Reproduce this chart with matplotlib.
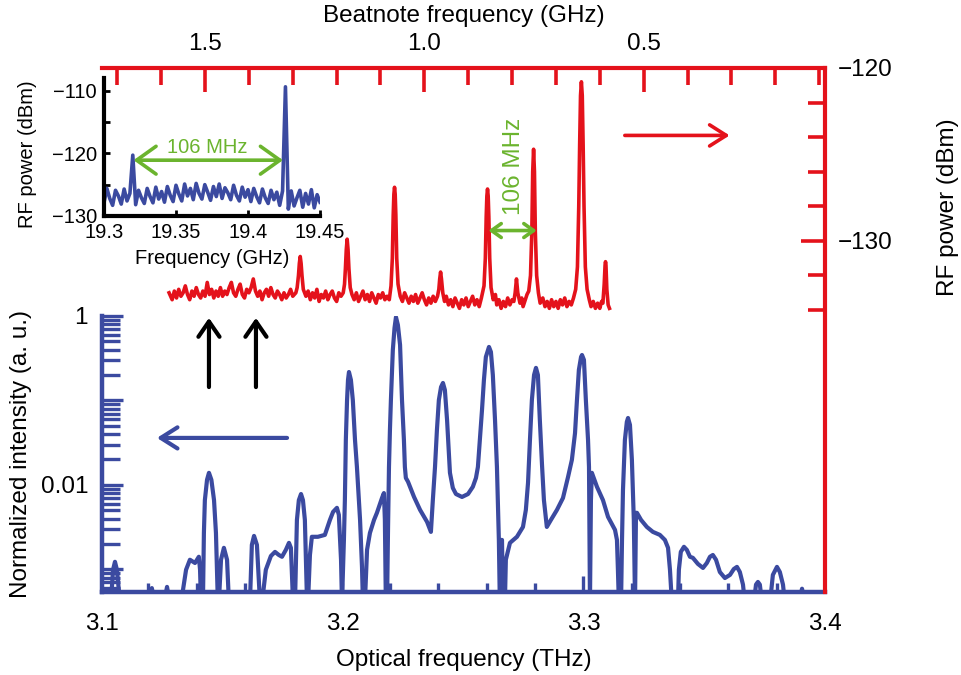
import matplotlib.pyplot as plt
import numpy as np
from matplotlib.ticker import FixedLocator, FixedFormatter, LogLocator, NullFormatter

plt.rcParams["font.family"] = ["Liberation Sans", "DejaVu Sans"]
plt.rcParams["font.size"] = 17.5

BLUE = "#3b4aa0"
RED = "#e4121b"
GREEN = "#6bb42e"

# --- optical spectrum (THz, normalized intensity); F = below the plot floor
F = 4e-4
optical_points = [
    (3.1004, F), (3.1037, F), (3.1046, 9.9e-4), (3.1054, 1.23e-3), (3.1062, 9.9e-4), (3.1075, F),
    (3.1199, F), (3.1207, 6.0e-4), (3.1220, F), (3.1257, F), (3.1270, 6.2e-4), (3.1282, F),
    (3.1328, F), (3.1349, 9.9e-4), (3.1365, 1.30e-3), (3.1386, 1.19e-3), (3.1402, 1.41e-3),
    (3.1407, 9.9e-4), (3.1411, F),
    (3.1419, F), (3.1423, 2.70e-3), (3.1427, 6.6e-3), (3.1436, 1.15e-2), (3.1444, 1.39e-2),
    (3.1454, 1.15e-2), (3.1465, 6.6e-3), (3.1473, 2.70e-3), (3.1481, F),
    (3.1485, F), (3.1494, 1.30e-3), (3.1506, 1.80e-3), (3.1519, 1.30e-3), (3.1527, F),
    (3.1614, F), (3.1622, 1.95e-3), (3.1631, 2.49e-3), (3.1643, 1.95e-3), (3.1656, F),
    (3.1664, F), (3.1680, 9.9e-4), (3.1701, 1.44e-3), (3.1718, 1.61e-3), (3.1734, 1.48e-3),
    (3.1747, 1.41e-3), (3.1763, 1.70e-3), (3.1776, 2.06e-3), (3.1784, 1.80e-3), (3.1793, F),
    (3.1801, F), (3.1809, 3.85e-3), (3.1817, 6.6e-3), (3.1826, 7.8e-3), (3.1834, 6.6e-3),
    (3.1842, 3.85e-3), (3.1851, F),
    (3.1855, F), (3.1863, 1.48e-3), (3.1871, 2.43e-3), (3.1896, 2.43e-3), (3.1925, 2.56e-3),
    (3.1946, 3.85e-3), (3.1959, 4.79e-3), (3.1975, 5.35e-3), (3.1983, 4.42e-3), (3.1992, 1.30e-3),
    (3.1996, F),
    (3.2004, 2.23e-3), (3.2008, 6.6e-3), (3.2012, 3.41e-2), (3.2017, 0.101), (3.2021, 0.175),
    (3.2025, 0.217), (3.2033, 0.175), (3.2041, 0.101), (3.2050, 3.41e-2), (3.2058, 1.63e-2),
    (3.2071, 3.85e-3), (3.2079, 1.07e-3), (3.2083, F),
    (3.2091, F), (3.2100, 1.70e-3), (3.2112, 2.70e-3), (3.2129, 3.85e-3), (3.2141, 4.67e-3),
    (3.2162, 7.0e-3), (3.2170, 8.0e-3), (3.2174, 3.85e-3), (3.2178, F),
    (3.2183, F), (3.2187, 2.93e-3), (3.2191, 1.63e-2), (3.2195, 4.48e-2), (3.2199, 0.101),
    (3.2207, 0.396), (3.2214, 0.721), (3.2220, 0.97), (3.2228, 0.782), (3.2237, 0.454),
    (3.2245, 0.101), (3.2253, 3.41e-2), (3.2257, 1.63e-2), (3.2261, 1.21e-2), (3.2270, 1.09e-2),
    (3.2295, 7.2e-3), (3.2320, 5.06e-3), (3.2349, 3.65e-3), (3.2365, 2.78e-3),
    (3.2373, 6.6e-3), (3.2382, 1.63e-2), (3.2390, 4.48e-2), (3.2398, 0.101), (3.2407, 0.144),
    (3.2415, 0.161), (3.2423, 0.133), (3.2432, 5.88e-2), (3.2440, 2.27e-2), (3.2444, 1.39e-2),
    (3.2456, 9.2e-3), (3.2469, 7.8e-3), (3.2494, 7.2e-3), (3.2519, 7.8e-3), (3.2539, 9.5e-3),
    (3.2552, 1.21e-2), (3.2560, 1.63e-2),
    (3.2568, 3.41e-2), (3.2577, 7.7e-2), (3.2585, 0.175), (3.2593, 0.327), (3.2606, 0.43),
    (3.2614, 0.375), (3.2622, 0.200), (3.2631, 5.88e-2), (3.2639, 1.63e-2), (3.2647, 2.23e-3),
    (3.2651, F), (3.2656, 2.23e-3), (3.2660, 2.23e-3), (3.2664, F),
    (3.2672, F), (3.2676, 1.30e-3), (3.2693, 2.06e-3), (3.2722, 2.43e-3), (3.2747, 3.18e-3),
    (3.2759, 5.06e-3), (3.2768, 1.06e-2),
    (3.2776, 3.41e-2), (3.2784, 0.101), (3.2793, 0.200), (3.2801, 0.243), (3.2809, 0.200),
    (3.2817, 5.88e-2), (3.2826, 1.73e-2), (3.2834, 6.6e-3), (3.2846, 3.18e-3),
    (3.2863, 3.85e-3), (3.2888, 5.06e-3), (3.2913, 7.0e-3), (3.2934, 1.24e-2), (3.2950, 1.98e-2),
    (3.2963, 4.1e-2), (3.2971, 0.101), (3.2979, 0.230), (3.2988, 0.327), (3.2992, 0.345),
    (3.3000, 0.302), (3.3008, 0.101), (3.3017, 3.41e-2), (3.3021, 1.63e-2), (3.3025, F),
    (3.3029, 6.6e-3), (3.3033, 1.39e-2), (3.3054, 9.5e-3), (3.3079, 6.6e-3), (3.3100, 4.18e-3),
    (3.3120, 3.27e-3), (3.3129, 2.93e-3), (3.3137, 2.23e-3), (3.3141, 9.9e-4), (3.3145, F),
    (3.3154, F), (3.3158, 2.23e-3), (3.3162, 8.7e-3), (3.3170, 3.41e-2), (3.3178, 5.57e-2),
    (3.3183, 6.2e-2), (3.3191, 5.13e-2), (3.3199, 1.98e-2), (3.3207, 3.85e-3), (3.3212, F),
    (3.3216, 4.67e-3), (3.3220, 4.67e-3), (3.3237, 3.85e-3), (3.3261, 3.18e-3), (3.3286, 2.78e-3),
    (3.3315, 2.56e-3), (3.3336, 2.23e-3), (3.3349, 1.80e-3), (3.3357, 9.9e-4), (3.3365, F),
    (3.3390, F), (3.3394, 9.9e-4), (3.3402, 1.61e-3), (3.3415, 1.85e-3), (3.3427, 1.70e-3),
    (3.3440, 1.41e-3), (3.3452, 1.37e-3), (3.3473, 1.16e-3), (3.3494, 1.04e-3), (3.3510, 1.19e-3),
    (3.3523, 1.41e-3), (3.3535, 1.48e-3), (3.3548, 1.30e-3), (3.3564, 9.3e-4), (3.3585, 7.9e-4),
    (3.3606, 8.6e-4), (3.3622, 1.01e-3), (3.3635, 1.07e-3), (3.3647, 9.3e-4), (3.3660, 6.6e-4),
    (3.3668, F),
    (3.3705, F), (3.3714, 6.6e-4), (3.3722, 7.1e-4), (3.3730, 6.6e-4), (3.3739, F),
    (3.3772, F), (3.3784, 8.6e-4), (3.3801, 1.07e-3), (3.3813, 9.3e-4), (3.3826, 6.6e-4), (3.3834, F),
    (3.3892, F), (3.3905, 5.9e-4), (3.3917, F), (3.4000, F),
]
# narrow floor spikes of the optical spectrum
spike_thz = [3.1191, 3.1394, 3.1593, 3.1793, 3.1996, 3.2195, 3.2394,
             3.2598, 3.2797, 3.2996, 3.3199, 3.3398, 3.3598, 3.3801]
spike_norm = [6.9e-4, 6.9e-4, 6.9e-4, 6.9e-4, 6.9e-4, 6.9e-4, 6.9e-4,
              6.9e-4, 6.9e-4, 8.4e-4, 6.9e-4, 6.9e-4, 6.9e-4, 6.9e-4]

# --- beatnote RF spectrum (GHz, dBm)
beat_points = [
    (1.582, -133.0), (1.575, -133.4), (1.57, -132.9), (1.565, -133.3), (1.56, -132.8),
    (1.555, -133.2), (1.55, -133.0), (1.545, -132.6), (1.54, -133.1), (1.535, -133.4),
    (1.53, -132.9), (1.525, -133.2), (1.52, -132.7), (1.515, -133.1), (1.51, -133.3),
    (1.505, -132.9), (1.50, -133.2), (1.495, -132.4), (1.49, -133.1), (1.485, -132.8),
    (1.48, -133.3), (1.475, -132.9), (1.47, -133.2), (1.465, -132.7), (1.46, -133.2),
    (1.455, -132.9), (1.45, -133.1), (1.445, -132.7), (1.44, -132.4), (1.435, -133.0),
    (1.43, -133.2), (1.425, -132.8), (1.42, -132.5), (1.415, -133.1), (1.41, -133.3),
    (1.405, -132.8), (1.40, -133.0), (1.395, -132.7), (1.39, -132.2), (1.385, -132.9),
    (1.38, -133.2), (1.375, -132.9), (1.37, -133.4), (1.365, -133.0), (1.36, -132.8),
    (1.355, -133.2), (1.35, -132.7), (1.345, -133.1), (1.34, -133.3), (1.335, -132.9),
    (1.33, -133.1), (1.325, -133.4), (1.32, -133.0), (1.315, -133.3), (1.31, -133.1),
    (1.305, -132.8), (1.30, -133.2),
    (1.293, -133.0), (1.290, -132.7), (1.287, -132.0), (1.285, -131.3), (1.283, -130.9),
    (1.281, -131.3), (1.279, -132.0), (1.276, -132.8), (1.27, -133.2),
    (1.265, -132.9), (1.26, -133.4), (1.255, -133.0), (1.25, -133.3), (1.245, -132.8),
    (1.24, -133.5), (1.235, -133.1), (1.23, -133.3), (1.225, -132.9), (1.22, -133.4),
    (1.215, -133.1), (1.21, -132.9), (1.205, -133.3), (1.20, -133.5), (1.195, -133.0),
    (1.19, -133.2),
    (1.185, -133.0), (1.182, -132.5), (1.180, -131.6), (1.178, -130.5), (1.176, -129.9),
    (1.174, -130.5), (1.172, -131.6), (1.169, -132.7), (1.165, -133.1), (1.16, -133.4),
    (1.155, -133.0), (1.15, -133.5), (1.145, -133.2), (1.14, -132.9), (1.135, -133.4),
    (1.13, -133.1), (1.125, -133.5), (1.12, -133.0), (1.115, -133.3), (1.11, -133.6),
    (1.105, -133.1), (1.10, -133.3), (1.095, -133.0), (1.09, -133.4), (1.085, -133.2),
    (1.08, -133.4),
    (1.076, -132.6), (1.073, -131.0), (1.071, -128.5), (1.0695, -127.3), (1.068, -126.9),
    (1.0665, -127.3), (1.065, -128.5), (1.063, -131.0), (1.060, -132.5), (1.055, -133.2),
    (1.05, -133.5), (1.045, -133.0), (1.04, -133.3), (1.035, -133.6), (1.03, -133.2),
    (1.025, -133.5), (1.02, -133.1), (1.015, -133.6), (1.01, -133.3), (1.005, -133.0),
    (1.00, -133.4), (0.995, -133.7), (0.99, -133.3), (0.985, -133.6), (0.98, -133.2),
    (0.975, -133.5),
    (0.970, -133.2), (0.967, -132.8), (0.965, -132.2), (0.963, -131.8), (0.961, -132.2),
    (0.958, -133.0), (0.954, -133.5),
    (0.95, -133.2), (0.945, -133.7), (0.94, -133.4), (0.935, -133.8), (0.93, -133.3),
    (0.925, -133.6), (0.92, -133.9), (0.915, -133.4), (0.91, -133.7), (0.905, -133.3),
    (0.90, -133.8), (0.895, -133.5), (0.89, -133.2), (0.885, -133.7), (0.88, -133.4),
    (0.875, -133.8), (0.87, -133.3),
    (0.864, -132.6), (0.861, -131.0), (0.859, -128.6), (0.8575, -127.4), (0.856, -127.0),
    (0.8545, -127.4), (0.853, -128.6), (0.851, -131.0), (0.848, -132.7), (0.843, -133.4),
    (0.838, -133.1), (0.835, -133.7), (0.83, -133.4), (0.825, -133.9), (0.82, -133.5),
    (0.815, -133.8), (0.81, -133.3), (0.805, -133.7), (0.80, -133.4),
    (0.796, -133.5), (0.793, -133.0), (0.790, -132.2), (0.787, -133.0), (0.782, -133.6),
    (0.778, -133.3), (0.775, -133.8), (0.77, -133.4), (0.766, -133.1), (0.762, -132.9),
    (0.758, -132.0), (0.755, -129.5), (0.753, -126.0), (0.751, -124.7), (0.749, -126.0),
    (0.747, -129.5), (0.744, -132.0), (0.740, -133.0), (0.736, -133.6),
    (0.73, -133.3), (0.725, -133.8), (0.72, -133.5), (0.715, -133.9), (0.71, -133.4),
    (0.705, -133.8), (0.70, -133.5), (0.695, -133.9), (0.69, -133.4), (0.685, -133.7),
    (0.68, -133.3), (0.675, -133.8), (0.67, -133.5), (0.665, -133.7),
    (0.660, -133.3), (0.655, -132.8), (0.651, -131.5), (0.648, -128.0), (0.646, -124.5),
    (0.644, -121.6), (0.642, -120.8), (0.640, -121.6), (0.638, -124.5), (0.636, -128.0),
    (0.633, -131.5), (0.629, -132.8), (0.624, -133.4),
    (0.62, -133.8), (0.615, -133.5), (0.61, -133.9), (0.605, -133.6), (0.60, -133.9),
    (0.596, -133.5),
    (0.593, -133.6), (0.590, -132.5), (0.588, -131.4), (0.587, -131.2), (0.586, -131.4),
    (0.584, -132.8), (0.581, -133.7), (0.578, -133.9),
]

# --- inset: RF spectrum around 19.3-19.45 GHz (sweep bins, dBm)
inset_start, inset_stop = 19.300, 19.450
inset_dbm = [
    -127.9, -125.6, -127.2, -128.3, -125.9, -126.8, -128.1, -125.7, -127.6, -126.4,
    -120.3, -128.2, -125.9, -127.1, -128.0, -125.6, -126.9, -127.9, -125.4, -127.3,
    -126.1, -127.8, -125.3, -126.7, -127.7, -125.1, -126.5, -127.6, -124.9, -126.8,
    -125.6, -127.4, -124.8, -126.4, -127.3, -125.0, -126.2, -127.5, -125.3, -126.9,
    -124.9, -127.2, -125.5, -126.3, -127.4, -125.1, -126.7, -127.6, -125.4, -127.0,
    -125.8, -127.7, -125.6, -126.9, -127.9, -125.7, -127.1, -128.0, -125.9, -127.4,
    -126.2, -128.3, -126.0, -109.4, -128.9, -126.0, -128.4, -127.1, -125.9, -128.6,
    -126.4, -128.1, -125.8, -128.7, -126.6, -127.8,
]

top_major = [1.5, 1.0, 0.5]
top_minor = [1.7, 1.6, 1.4, 1.3, 1.2, 1.1, 0.9, 0.8, 0.7, 0.6, 0.4, 0.3, 0.2, 0.1]
right_major = [-130, -120]
right_minor = [-134, -132, -128, -126, -124, -122]

fig = plt.figure(figsize=(9.61, 6.75), dpi=100)

# ---- optical (blue, log) axes
ax = fig.add_axes([0.1061, 0.1230, 0.7523, 0.4089])
thz, norm = zip(*optical_points)
ax.plot(thz, norm, color=BLUE, lw=3.0, solid_joinstyle="round")
ax.vlines(spike_thz, F, spike_norm, color=BLUE, lw=2.4)
ax.set_yscale("log")
ax.set_xlim(3.1, 3.4)
ax.set_ylim(5.4e-4, 1.0)
ax.yaxis.set_major_locator(FixedLocator([1e-3, 1e-2, 1e-1, 1.0]))
ax.yaxis.set_major_formatter(FixedFormatter(["", "0.01", "", "1"]))
ax.yaxis.set_minor_locator(LogLocator(base=10, subs=np.arange(2, 10)))
ax.yaxis.set_minor_formatter(NullFormatter())
ax.tick_params(axis="y", which="major", direction="in", length=15, width=2.4, color=BLUE, pad=10)
ax.tick_params(axis="y", which="minor", direction="in", length=13, width=2.4, color=BLUE)
ax.set_xticks([3.1, 3.2, 3.3, 3.4])
ax.set_xticklabels(["3.1", "3.2", "3.3", "3.4"])
ax.tick_params(axis="x", length=0, pad=15)
for s in ("top", "right"):
    ax.spines[s].set_visible(False)
for s in ("left", "bottom"):
    ax.spines[s].set_color(BLUE)
    ax.spines[s].set_linewidth(3.2)
ax.set_xlabel("Optical frequency (THz)", labelpad=10)
ax.set_ylabel("Normalized intensity (a. u.)")
ax.yaxis.set_label_coords(-0.097, 0.5)
ax.patch.set_alpha(0)

arrow_up = dict(arrowstyle="->,head_length=0.55,head_width=0.38", lw=3, color="black",
                shrinkA=0, shrinkB=0, mutation_scale=20)
for xa in (3.1444, 3.1639):
    ax.annotate("", xy=(xa, 0.95), xytext=(xa, 0.144), arrowprops=arrow_up, annotation_clip=False)
ax.annotate("", xy=(3.1228, 0.036), xytext=(3.1768, 0.036),
            arrowprops=dict(arrowstyle="->,head_length=0.6,head_width=0.38", lw=3, color=BLUE,
                            shrinkA=0, shrinkB=0, mutation_scale=20))

# ---- beatnote (red) axes
axr = fig.add_axes([0.1061, 0.1230, 0.7523, 0.7763])
axr.patch.set_alpha(0)
ghz, dbm = zip(*beat_points)
axr.plot(ghz, dbm, color=RED, lw=2.6, solid_joinstyle="round")
axr.set_xlim(1.735, 0.0868)
axr.set_ylim(-150.3, -120)
for s in ("left", "bottom"):
    axr.spines[s].set_visible(False)
for s in ("top", "right"):
    axr.spines[s].set_color(RED)
    axr.spines[s].set_linewidth(3)
axr.xaxis.tick_top()
axr.xaxis.set_label_position("top")
axr.set_xticks(top_major)
axr.set_xticklabels(["1.5", "1.0", "0.5"])
axr.set_xticks(top_minor, minor=True)
axr.yaxis.tick_right()
axr.yaxis.set_label_position("right")
axr.set_yticks(right_major)
axr.set_yticklabels(["\u2212130", "\u2212120"])
axr.set_yticks(right_minor, minor=True)
axr.tick_params(which="major", direction="in", length=17, width=2.6, color=RED, pad=9)
axr.tick_params(which="minor", direction="in", length=12, width=2.6, color=RED)
axr.set_xlabel("Beatnote frequency (GHz)", labelpad=8)
axr.set_ylabel("RF power (dBm)")
axr.yaxis.set_label_coords(1.155, 0.735)

axr.annotate("", xy=(0.304, -123.9), xytext=(0.543, -123.9),
             arrowprops=dict(arrowstyle="->,head_length=0.6,head_width=0.38", lw=2.6, color=RED,
                             shrinkA=0, shrinkB=0, mutation_scale=20))
axr.annotate("", xy=(0.744, -129.4), xytext=(0.854, -129.4),
             arrowprops=dict(arrowstyle="<->,head_length=0.35,head_width=0.25", lw=2.6, color=GREEN,
                             shrinkA=0, shrinkB=0, mutation_scale=20))
axr.text(0.7945, -125.7, "106 MHz", rotation=90, ha="center", va="center", color=GREEN)

# ---- inset
axi = fig.add_axes([0.1082, 0.680, 0.2248, 0.2044])
axi.patch.set_alpha(0)
inset_ghz = np.linspace(inset_start, inset_stop, len(inset_dbm))
axi.plot(inset_ghz, inset_dbm, color=BLUE, lw=2.6)
axi.set_xlim(19.3, 19.45)
axi.set_ylim(-130, -108)
for s in ("top", "right"):
    axi.spines[s].set_visible(False)
for s in ("left", "bottom"):
    axi.spines[s].set_color("black")
    axi.spines[s].set_linewidth(3)
axi.set_xticks([19.3, 19.35, 19.4, 19.45])
axi.set_xticklabels(["19.3", "19.35", "19.4", "19.45"])
axi.set_yticks([-130, -120, -110])
axi.set_yticklabels(["\u2212130", "\u2212120", "\u2212110"])
axi.set_yticks([-125, -115], minor=True)
axi.tick_params(which="both", direction="in", length=4, width=2, labelsize=14.5, pad=5)
axi.set_xlabel("Frequency (GHz)", fontsize=14.5, labelpad=5)
axi.set_ylabel("RF power (dBm)", fontsize=14.5)
axi.yaxis.set_label_coords(-0.31, 0.45)
axi.annotate("", xy=(19.4243, -121.1), xytext=(19.3205, -121.1),
             arrowprops=dict(arrowstyle="<->,head_length=0.7,head_width=0.5", lw=2.6, color=GREEN,
                             shrinkA=0, shrinkB=0, mutation_scale=20))
axi.text(19.372, -119.0, "106 MHz", ha="center", va="center", color=GREEN, fontsize=14.5)

fig.savefig("out.png", dpi=100)
